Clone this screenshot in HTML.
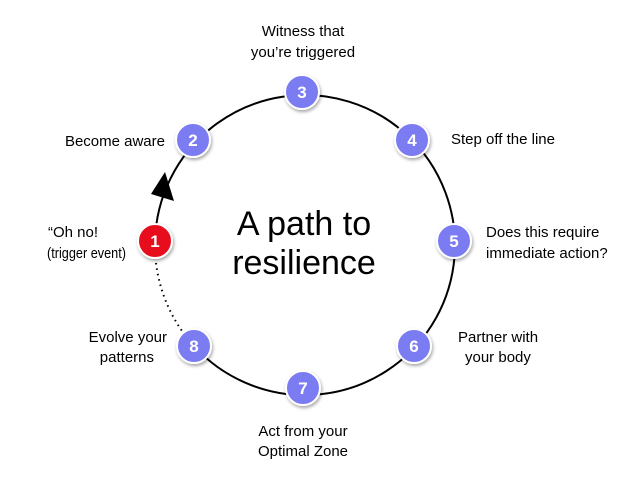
<!DOCTYPE html>
<html><head><style>
html,body{margin:0;padding:0;background:#fff;}
svg{display:block;}
text{font-family:"Liberation Sans",Arial,sans-serif;}
</style></head><body>
<svg width="641" height="488" viewBox="0 0 641 488" xmlns="http://www.w3.org/2000/svg">
<defs>
<filter id="sh" x="-50%" y="-50%" width="200%" height="200%">
<feDropShadow dx="1" dy="2" stdDeviation="1.5" flood-color="#000" flood-opacity="0.35"/>
</filter>
</defs>
<path d="M155,241 A150,150 0 1 1 194,346" fill="none" stroke="#000" stroke-width="2"/>
<path d="M155,241 A150,150 0 0 0 194,346" fill="none" stroke="#000" stroke-width="2" stroke-dasharray="1.5,4"/>
<polygon points="165,172 151,194 174,201" fill="#000"/>
<text x="304" y="235" font-size="34" text-anchor="middle" fill="#000">A path to</text>
<text x="304" y="274" font-size="34" text-anchor="middle" fill="#000">resilience</text>
<g filter="url(#sh)" stroke="#fff" stroke-width="2">
<circle cx="155" cy="241" r="17" fill="#e8101a"/>
<circle cx="193" cy="140" r="17" fill="#7b7cf2"/>
<circle cx="302" cy="92" r="17" fill="#7b7cf2"/>
<circle cx="412" cy="140" r="17" fill="#7b7cf2"/>
<circle cx="454" cy="241" r="17" fill="#7b7cf2"/>
<circle cx="414" cy="346" r="17" fill="#7b7cf2"/>
<circle cx="303" cy="388" r="17" fill="#7b7cf2"/>
<circle cx="194" cy="346" r="17" fill="#7b7cf2"/>
</g>
<g font-size="17" font-weight="bold" fill="#fff" text-anchor="middle">
<text x="155" y="247">1</text>
<text x="193" y="146">2</text>
<text x="302" y="98">3</text>
<text x="412" y="146">4</text>
<text x="454" y="247">5</text>
<text x="414" y="352">6</text>
<text x="303" y="394">7</text>
<text x="194" y="352">8</text>
</g>
<g font-size="15" fill="#000">
<text x="303" y="36" text-anchor="middle">Witness that</text>
<text x="303" y="57" text-anchor="middle">you’re triggered</text>
<text x="165" y="146" text-anchor="end">Become aware</text>
<text x="451" y="144">Step off the line</text>
<text x="48" y="237">“Oh no!</text>
<text x="47" y="258" textLength="79" lengthAdjust="spacingAndGlyphs">(trigger event)</text>
<text x="486" y="237">Does this require</text>
<text x="486" y="258">immediate action?</text>
<text x="167" y="342" text-anchor="end">Evolve your</text>
<text x="154" y="362" text-anchor="end">patterns</text>
<text x="458" y="342">Partner with</text>
<text x="465" y="362">your body</text>
<text x="303" y="436" text-anchor="middle">Act from your</text>
<text x="303" y="456" text-anchor="middle">Optimal Zone</text>
</g>
</svg>
</body></html>
